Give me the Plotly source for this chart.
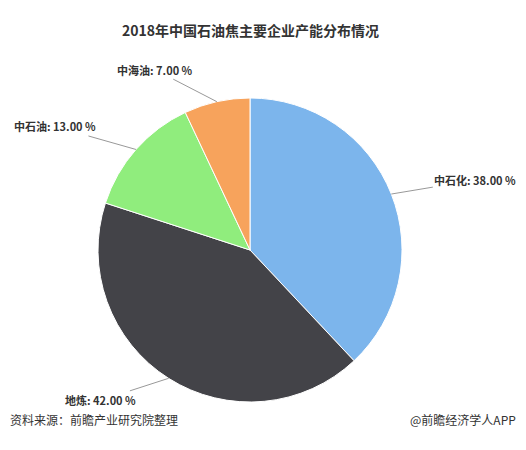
import plotly.graph_objects as go
import math

labels = ["中石化", "地炼", "中石油", "中海油"]
values = [38.0, 42.0, 13.0, 7.0]
colors = ["#7cb5ec", "#434348", "#90ed7d", "#f7a35c"]
offsets = [(84, -14), (-68, 22), (-81, -23), (-62, -32)]

# page body has an 8px margin; figure coordinates are reference minus 8
M = 8
W, H = 526 - 2 * M, 450 - 2 * M
cx, cy, r = 250 - M, 250 - M, 152

fig = go.Figure(go.Pie(
    labels=labels, values=values, sort=False, direction="clockwise", rotation=0,
    marker=dict(colors=colors, line=dict(color="white", width=1)),
    textinfo="none", hoverinfo="label+percent", showlegend=False,
    domain=dict(x=[(cx - r) / W, (cx + r) / W], y=[1 - (cy + r) / H, 1 - (cy - r) / H]),
))

total = sum(values)
cum = 0
for lab, v, (ax, ay) in zip(labels, values, offsets):
    mid = (cum + v / 2) / total * 2 * math.pi
    cum += v
    ex = cx + r * math.sin(mid)
    ey = cy - r * math.cos(mid)
    fig.add_annotation(x=ex / W, y=1 - ey / H, xref="paper", yref="paper",
                       text=f"<b>{lab}: {v:.2f} %</b>", showarrow=True, arrowhead=0,
                       arrowwidth=1, arrowcolor="#999", ax=ax, ay=ay,
                       font=dict(size=11, color="#333"))

fig.add_annotation(x=(250 - M) / W, y=1 - (18 - M) / H, xref="paper", yref="paper", showarrow=False,
                   text="<b>2018年中国石油焦主要企业产能分布情况</b>", font=dict(size=14, color="#333"))
fig.add_annotation(x=0, y=1 - (430 - M) / H, xref="paper", yref="paper", showarrow=False, xanchor="left",
                   text="资料来源：前瞻产业研究院整理", font=dict(size=12, color="#333"))
fig.add_annotation(x=1, y=1 - (430 - M) / H, xref="paper", yref="paper", showarrow=False, xanchor="right",
                   text="@前瞻经济学人APP", font=dict(size=12, color="#333"))

fig.update_layout(width=W, height=H, margin=dict(l=0, r=0, t=0, b=0),
                  paper_bgcolor="white", font=dict(family="Noto Sans CJK SC"))
fig.write_html("out.html")
